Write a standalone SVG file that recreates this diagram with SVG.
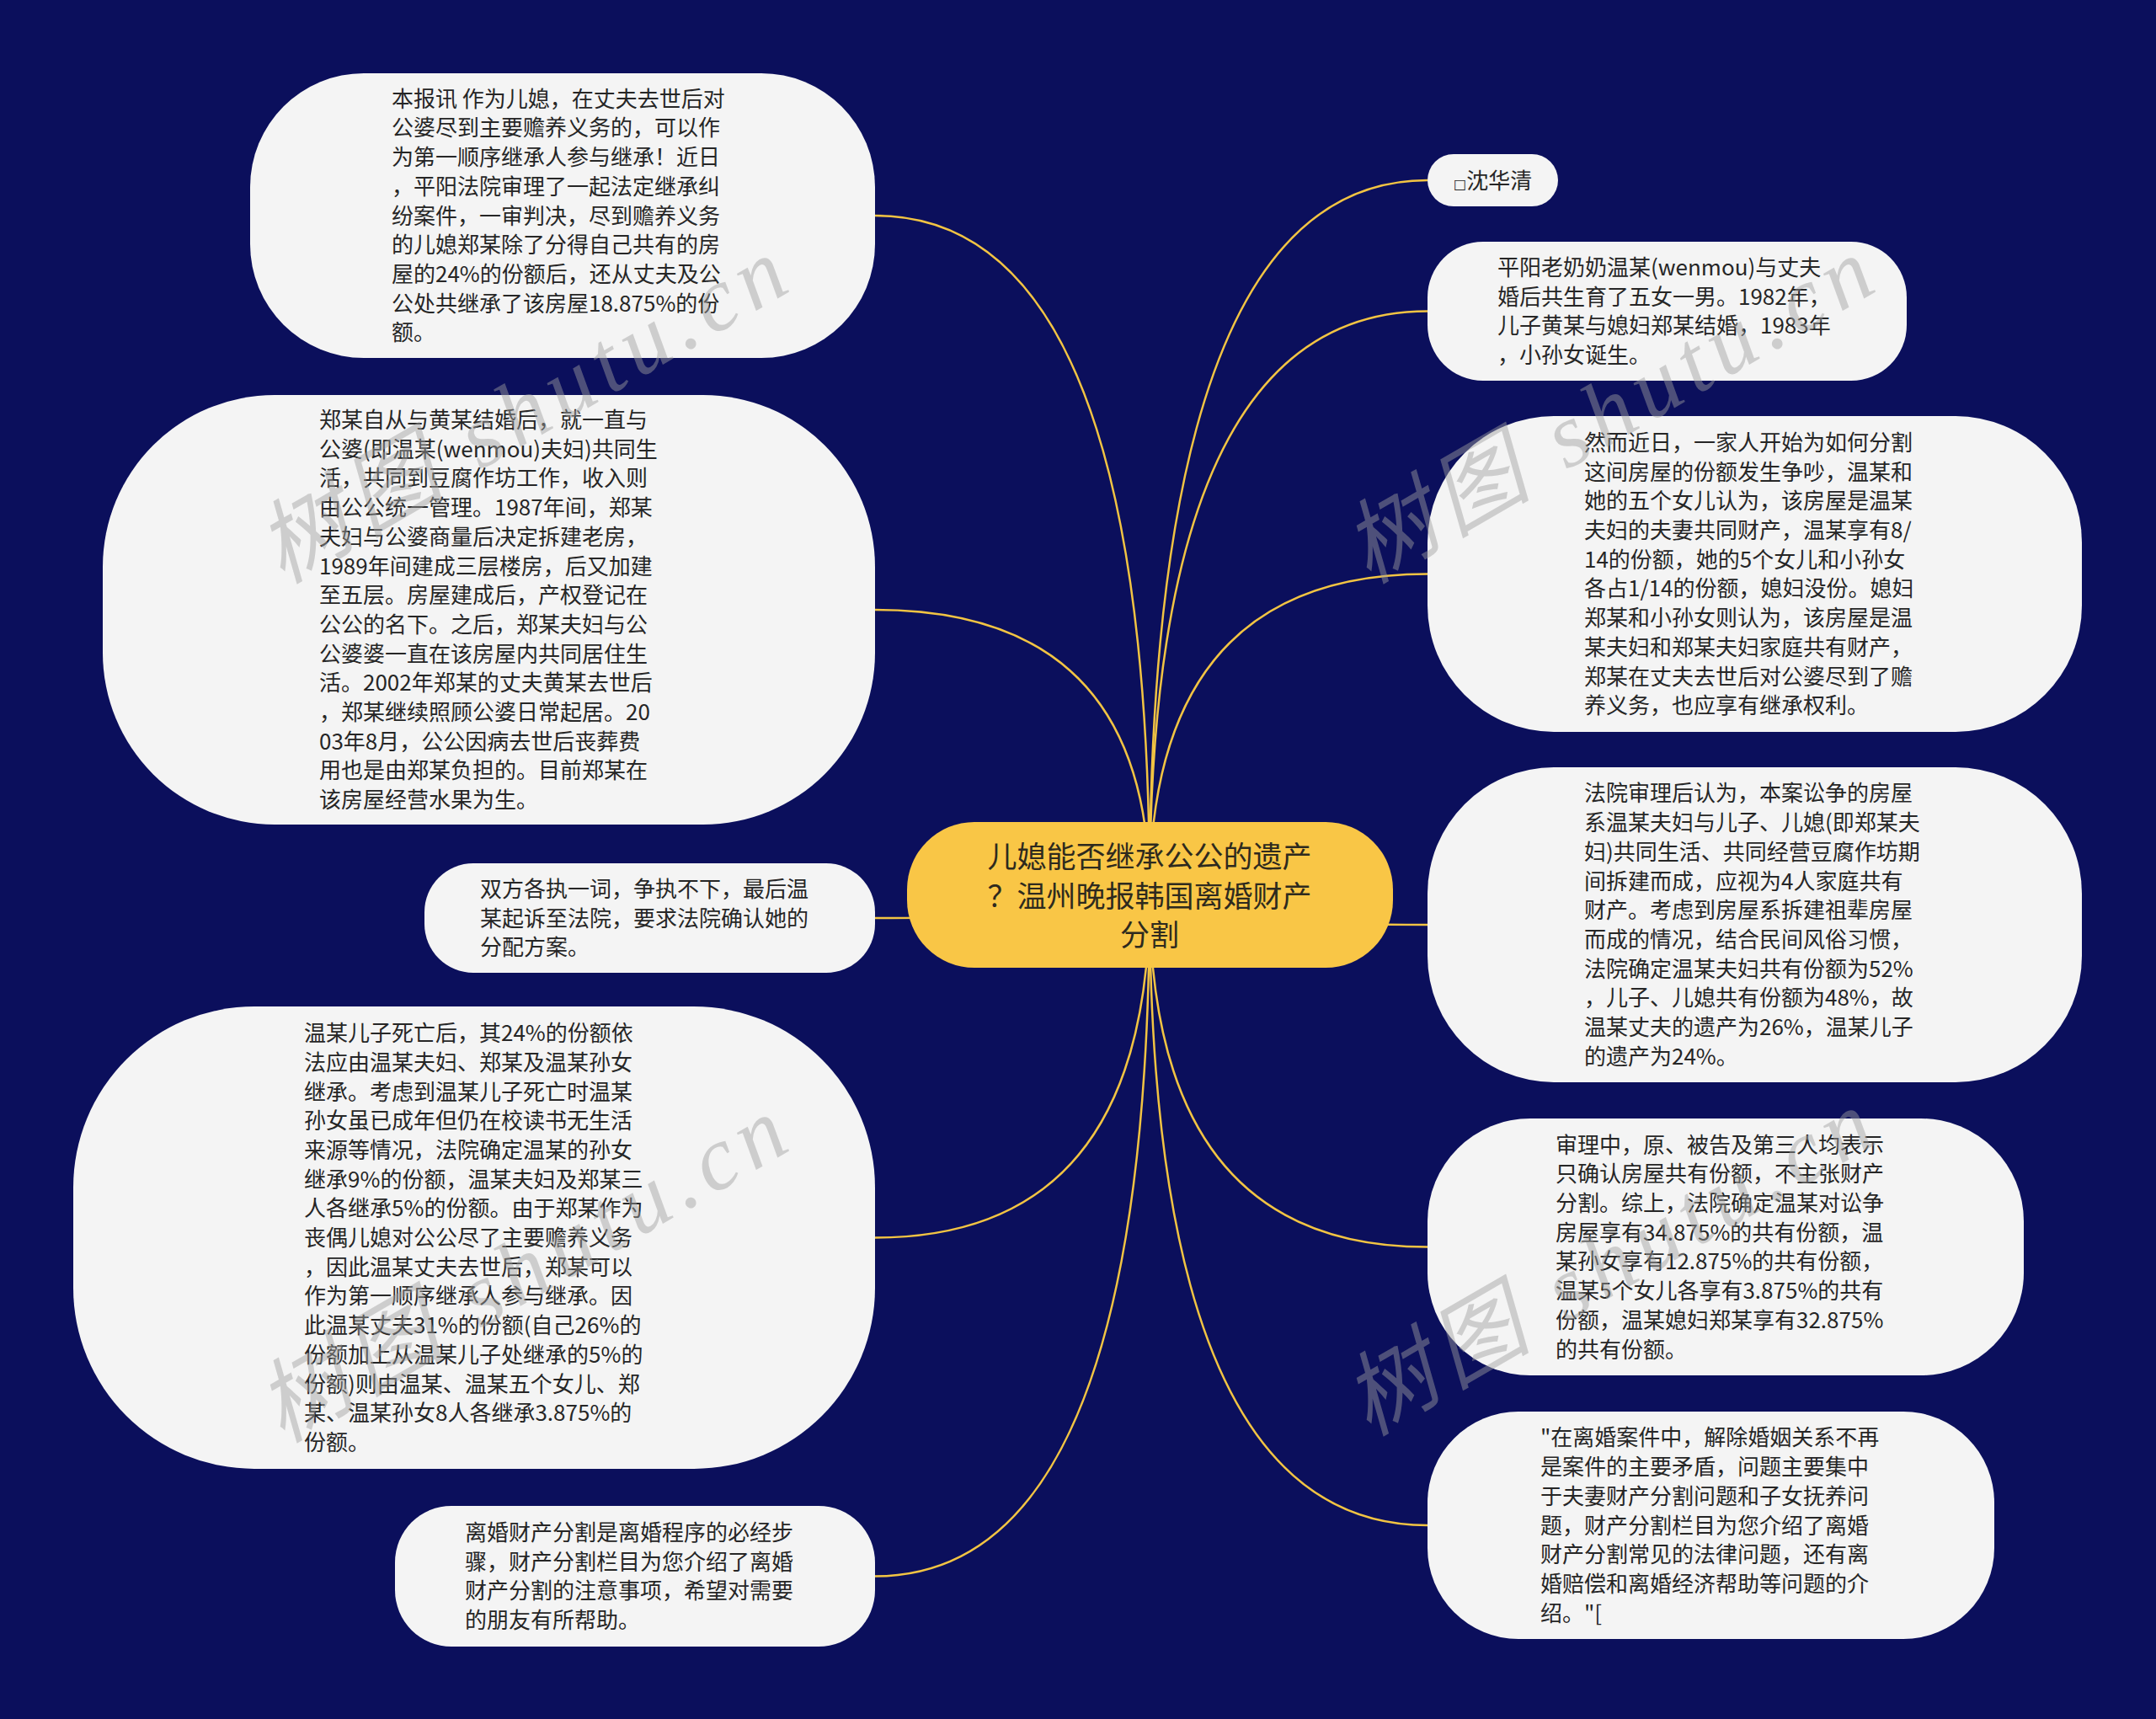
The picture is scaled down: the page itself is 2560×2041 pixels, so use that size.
<svg xmlns="http://www.w3.org/2000/svg" width="2560" height="2041" viewBox="0 0 2560 2041">
<style>
.bg{fill:#0b0f5c}
.nd{fill:#f4f4f4}
.ctr{fill:#f9c646}
.t{font-family:"Noto Sans CJK SC","Noto Sans",sans-serif;font-size:26px;fill:#262626}
.ct{font-family:"Noto Sans CJK SC","Noto Sans",sans-serif;font-size:35px;fill:#2e2a1e;text-anchor:middle}
.ln{fill:none;stroke:#f2c443;stroke-width:2.5}
.wm{font-family:"Liberation Serif","Noto Sans CJK SC",serif;font-size:108px;fill:#a0a0a0;opacity:0.45;font-style:italic}
</style>
<rect class="bg" x="0" y="0" width="2560" height="2041"/>
<g id="connectors">
<path class="ln" d="M1365,1062.5 Q1365,256 1039,256"/>
<path class="ln" d="M1365,1062.5 Q1365,724 1039,724"/>
<path class="ln" d="M1365,1062.5 Q1365,1090 1039,1090"/>
<path class="ln" d="M1365,1062.5 Q1365,1469.5 1039,1469.5"/>
<path class="ln" d="M1365,1062.5 Q1365,1871.5 1039,1871.5"/>
<path class="ln" d="M1365,1062.5 Q1365,214 1695,214"/>
<path class="ln" d="M1365,1062.5 Q1365,369.5 1695,369.5"/>
<path class="ln" d="M1365,1062.5 Q1365,681.5 1695,681.5"/>
<path class="ln" d="M1365,1062.5 Q1365,1098 1695,1098"/>
<path class="ln" d="M1365,1062.5 Q1365,1480.5 1695,1480.5"/>
<path class="ln" d="M1365,1062.5 Q1365,1811 1695,1811"/>
</g>
<g id="center">
<rect class="ctr" x="1077" y="976" width="577" height="173" rx="80" ry="80"/>
<text class="ct" x="1365" y="1030">儿媳能否继承公公的遗产<tspan x="1365" dy="46.5">？温州晚报韩国离婚财产</tspan><tspan x="1365" dy="46.5">分割</tspan></text>
</g>
<g id="nodeA">
<rect class="nd" x="297" y="87" width="742" height="338" rx="135" ry="135"/>
<text class="t" x="465" y="126.7">本报讯 作为儿媳，在丈夫去世后对<tspan x="465" dy="34.7">公婆尽到主要赡养义务的，可以作</tspan><tspan x="465" dy="34.7">为第一顺序继承人参与继承！近日</tspan><tspan x="465" dy="34.7">，平阳法院审理了一起法定继承纠</tspan><tspan x="465" dy="34.7">纷案件，一审判决，尽到赡养义务</tspan><tspan x="465" dy="34.7">的儿媳郑某除了分得自己共有的房</tspan><tspan x="465" dy="34.7">屋的24%的份额后，还从丈夫及公</tspan><tspan x="465" dy="34.7">公处共继承了该房屋18.875%的份</tspan><tspan x="465" dy="34.7">额。</tspan></text>
</g>
<g id="nodeB">
<rect class="nd" x="122" y="469" width="917" height="510" rx="204" ry="204"/>
<text class="t" x="379" y="508">郑某自从与黄某结婚后，就一直与<tspan x="379" dy="34.7">公婆(即温某(wenmou)夫妇)共同生</tspan><tspan x="379" dy="34.7">活，共同到豆腐作坊工作，收入则</tspan><tspan x="379" dy="34.7">由公公统一管理。1987年间，郑某</tspan><tspan x="379" dy="34.7">夫妇与公婆商量后决定拆建老房，</tspan><tspan x="379" dy="34.7">1989年间建成三层楼房，后又加建</tspan><tspan x="379" dy="34.7">至五层。房屋建成后，产权登记在</tspan><tspan x="379" dy="34.7">公公的名下。之后，郑某夫妇与公</tspan><tspan x="379" dy="34.7">公婆婆一直在该房屋内共同居住生</tspan><tspan x="379" dy="34.7">活。2002年郑某的丈夫黄某去世后</tspan><tspan x="379" dy="34.7">，郑某继续照顾公婆日常起居。20</tspan><tspan x="379" dy="34.7">03年8月，公公因病去世后丧葬费</tspan><tspan x="379" dy="34.7">用也是由郑某负担的。目前郑某在</tspan><tspan x="379" dy="34.7">该房屋经营水果为生。</tspan></text>
</g>
<g id="nodeC">
<rect class="nd" x="504" y="1025" width="535" height="130" rx="58" ry="58"/>
<text class="t" x="570" y="1064.8">双方各执一词，争执不下，最后温<tspan x="570" dy="34.7">某起诉至法院，要求法院确认她的</tspan><tspan x="570" dy="34.7">分配方案。</tspan></text>
</g>
<g id="nodeD">
<rect class="nd" x="87" y="1195" width="952" height="549" rx="215" ry="215"/>
<text class="t" x="361" y="1236.1">温某儿子死亡后，其24%的份额依<tspan x="361" dy="34.7">法应由温某夫妇、郑某及温某孙女</tspan><tspan x="361" dy="34.7">继承。考虑到温某儿子死亡时温某</tspan><tspan x="361" dy="34.7">孙女虽已成年但仍在校读书无生活</tspan><tspan x="361" dy="34.7">来源等情况，法院确定温某的孙女</tspan><tspan x="361" dy="34.7">继承9%的份额，温某夫妇及郑某三</tspan><tspan x="361" dy="34.7">人各继承5%的份额。由于郑某作为</tspan><tspan x="361" dy="34.7">丧偶儿媳对公公尽了主要赡养义务</tspan><tspan x="361" dy="34.7">，因此温某丈夫去世后，郑某可以</tspan><tspan x="361" dy="34.7">作为第一顺序继承人参与继承。因</tspan><tspan x="361" dy="34.7">此温某丈夫31%的份额(自己26%的</tspan><tspan x="361" dy="34.7">份额加上从温某儿子处继承的5%的</tspan><tspan x="361" dy="34.7">份额)则由温某、温某五个女儿、郑</tspan><tspan x="361" dy="34.7">某、温某孙女8人各继承3.875%的</tspan><tspan x="361" dy="34.7">份额。</tspan></text>
</g>
<g id="nodeE">
<rect class="nd" x="469" y="1788" width="570" height="167" rx="67" ry="67"/>
<text class="t" x="552" y="1829">离婚财产分割是离婚程序的必经步<tspan x="552" dy="34.7">骤，财产分割栏目为您介绍了离婚</tspan><tspan x="552" dy="34.7">财产分割的注意事项，希望对需要</tspan><tspan x="552" dy="34.7">的朋友有所帮助。</tspan></text>
</g>
<g id="nodeF">
<rect class="nd" x="1695" y="183" width="155" height="62" rx="31" ry="31"/>
<text class="t" x="1726" y="223.5"><tspan font-family="DejaVu Sans" font-size="16">□</tspan>沈华清</text>
</g>
<g id="nodeG">
<rect class="nd" x="1695" y="287" width="569" height="165" rx="66" ry="66"/>
<text class="t" x="1778" y="327">平阳老奶奶温某(wenmou)与丈夫<tspan x="1778" dy="34.7">婚后共生育了五女一男。1982年，</tspan><tspan x="1778" dy="34.7">儿子黄某与媳妇郑某结婚，1983年</tspan><tspan x="1778" dy="34.7">，小孙女诞生。</tspan></text>
</g>
<g id="nodeH">
<rect class="nd" x="1695" y="494" width="777" height="375" rx="150" ry="150"/>
<text class="t" x="1881" y="534.9">然而近日，一家人开始为如何分割<tspan x="1881" dy="34.7">这间房屋的份额发生争吵，温某和</tspan><tspan x="1881" dy="34.7">她的五个女儿认为，该房屋是温某</tspan><tspan x="1881" dy="34.7">夫妇的夫妻共同财产，温某享有8/</tspan><tspan x="1881" dy="34.7">14的份额，她的5个女儿和小孙女</tspan><tspan x="1881" dy="34.7">各占1/14的份额，媳妇没份。媳妇</tspan><tspan x="1881" dy="34.7">郑某和小孙女则认为，该房屋是温</tspan><tspan x="1881" dy="34.7">某夫妇和郑某夫妇家庭共有财产，</tspan><tspan x="1881" dy="34.7">郑某在丈夫去世后对公婆尽到了赡</tspan><tspan x="1881" dy="34.7">养义务，也应享有继承权利。</tspan></text>
</g>
<g id="nodeI">
<rect class="nd" x="1695" y="911" width="777" height="374" rx="150" ry="150"/>
<text class="t" x="1881" y="951.4">法院审理后认为，本案讼争的房屋<tspan x="1881" dy="34.7">系温某夫妇与儿子、儿媳(即郑某夫</tspan><tspan x="1881" dy="34.7">妇)共同生活、共同经营豆腐作坊期</tspan><tspan x="1881" dy="34.7">间拆建而成，应视为4人家庭共有</tspan><tspan x="1881" dy="34.7">财产。考虑到房屋系拆建祖辈房屋</tspan><tspan x="1881" dy="34.7">而成的情况，结合民间风俗习惯，</tspan><tspan x="1881" dy="34.7">法院确定温某夫妇共有份额为52%</tspan><tspan x="1881" dy="34.7">，儿子、儿媳共有份额为48%，故</tspan><tspan x="1881" dy="34.7">温某丈夫的遗产为26%，温某儿子</tspan><tspan x="1881" dy="34.7">的遗产为24%。</tspan></text>
</g>
<g id="nodeJ">
<rect class="nd" x="1695" y="1328" width="708" height="305" rx="122" ry="122"/>
<text class="t" x="1847" y="1368.6">审理中，原、被告及第三人均表示<tspan x="1847" dy="34.7">只确认房屋共有份额，不主张财产</tspan><tspan x="1847" dy="34.7">分割。综上，法院确定温某对讼争</tspan><tspan x="1847" dy="34.7">房屋享有34.875%的共有份额，温</tspan><tspan x="1847" dy="34.7">某孙女享有12.875%的共有份额，</tspan><tspan x="1847" dy="34.7">温某5个女儿各享有3.875%的共有</tspan><tspan x="1847" dy="34.7">份额，温某媳妇郑某享有32.875%</tspan><tspan x="1847" dy="34.7">的共有份额。</tspan></text>
</g>
<g id="nodeK">
<rect class="nd" x="1695" y="1676" width="673" height="270" rx="108" ry="108"/>
<text class="t" x="1829" y="1716.4">"在离婚案件中，解除婚姻关系不再<tspan x="1829" dy="34.7">是案件的主要矛盾，问题主要集中</tspan><tspan x="1829" dy="34.7">于夫妻财产分割问题和子女抚养问</tspan><tspan x="1829" dy="34.7">题，财产分割栏目为您介绍了离婚</tspan><tspan x="1829" dy="34.7">财产分割常见的法律问题，还有离</tspan><tspan x="1829" dy="34.7">婚赔偿和离婚经济帮助等问题的介</tspan><tspan x="1829" dy="34.7">绍。"[</tspan></text>
</g>
<g id="watermark">
<text class="wm" x="335" y="694" transform="rotate(-30 335 694)" textLength="700" lengthAdjust="spacing">树图 shutu.cn</text>
<text class="wm" x="1625" y="694" transform="rotate(-30 1625 694)" textLength="700" lengthAdjust="spacing">树图 shutu.cn</text>
<text class="wm" x="335" y="1714" transform="rotate(-30 335 1714)" textLength="700" lengthAdjust="spacing">树图 shutu.cn</text>
<text class="wm" x="1625" y="1706" transform="rotate(-30 1625 1706)" textLength="700" lengthAdjust="spacing">树图 shutu.cn</text>
</g>
</svg>
